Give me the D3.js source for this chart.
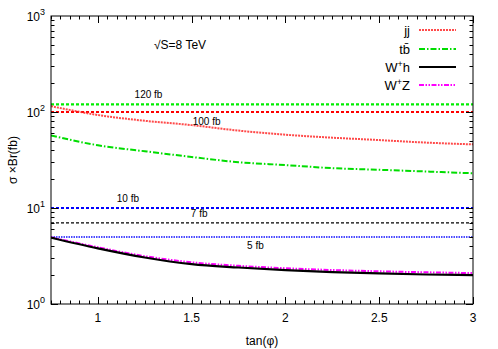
<!DOCTYPE html>
<html lang="en">
<head>
  <meta charset="UTF-8">
  <title>sigma x Br vs tan(phi)</title>
  <script src="https://cdnjs.cloudflare.com/ajax/libs/d3/7.8.5/d3.min.js"></script>
  <style>
    body { margin: 0; background: #fff; }
    svg text { font-family: "Liberation Sans", Arial, sans-serif; fill: #000; }
  </style>
</head>
<body>
  <div id="chart"></div>
  <script>
    // data
    const tanPhi = [0.75, 1, 1.25, 1.5, 1.75, 2, 2.25, 2.5, 2.75, 3];
    const jj  = [115, 93, 81, 73, 64, 58, 54, 51, 48, 46];
    const ttb = [57, 45, 39, 34, 30, 28, 26, 25, 24, 23];
    const wh  = [4.9, 3.8, 3.05, 2.6, 2.4, 2.25, 2.15, 2.08, 2.03, 2.0];
    const wz  = [4.95, 3.9, 3.15, 2.72, 2.5, 2.36, 2.26, 2.19, 2.14, 2.1];

    const refValues = [120, 100, 10, 7, 5];
    const refLabels = ["120 fb", "100 fb", "10 fb", "7 fb", "5 fb"];
    const refLabelX = [1.27, 1.58, 1.16, 1.54, 1.84];

    const xTicks = [1, 1.5, 2, 2.5, 3];
    const yTicks = [1, 10, 100, 1000];

    const W = 498, H = 349;
    const margin = {top: 16, right: 25, bottom: 45, left: 51};

    const svg = d3.select("#chart").append("svg")
      .attr("width", W).attr("height", H);

    const x = d3.scaleLinear().domain([0.75, 3]).range([margin.left, W - margin.right]);
    const y = d3.scaleLog().domain([1, 1000]).range([H - margin.bottom, margin.top]);

    const defs = svg.append("defs");
    defs.append("clipPath").attr("id", "clip").append("rect")
      .attr("x", margin.left).attr("y", margin.top)
      .attr("width", x.range()[1] - margin.left).attr("height", y.range()[0] - margin.top);

    const plot = svg.append("g").attr("clip-path", "url(#clip)");

    // horizontal reference lines
    const refStyle = [
      {color: "#00ee00", width: 2.2, dash: "3,2"},
      {color: "#ff0000", width: 2.2, dash: "3,2"},
      {color: "#0000ff", width: 2.2, dash: "3,2"},
      {color: "#000000", width: 1.2, dash: "3,2"},
      {color: "#4a4aff", width: 2, dash: "1.5,1"}
    ];
    refValues.forEach((v, i) => {
      plot.append("line")
        .attr("x1", x.range()[0]).attr("x2", x.range()[1])
        .attr("y1", y(v)).attr("y2", y(v))
        .attr("stroke", refStyle[i].color)
        .attr("stroke-width", refStyle[i].width)
        .attr("stroke-dasharray", refStyle[i].dash);
    });

    const refOffset = [-6, 13, -6, -6, 12];
    refValues.forEach((v, i) => {
      svg.append("text")
        .attr("x", x(refLabelX[i])).attr("y", y(v) + refOffset[i])
        .attr("text-anchor", "middle")
        .attr("font-size", 10)
        .text(refLabels[i]);
    });

    // curves
    const line = d3.line()
      .x(d => x(d[0])).y(d => y(d[1]))
      .curve(d3.curveMonotoneX);

    const series = [
      {name: "jj", vals: jj, color: "#ff2a2a", width: 2, dash: "2,1", op: 0.85},
      {name: "tb", vals: ttb, color: "#00dd00", width: 2, dash: "6,2,1.5,2", op: 1},
      {name: "wz", vals: wz, color: "#ff00ff", width: 2, dash: "5,1.5,1.5,1.5,1.5,1.5", op: 1},
      {name: "wh", vals: wh, color: "#000000", width: 2.2, dash: null, op: 1}
    ];
    series.forEach(s => {
      plot.append("path")
        .datum(tanPhi.map((t, i) => [t, s.vals[i]]))
        .attr("d", line)
        .attr("fill", "none")
        .attr("stroke", s.color)
        .attr("stroke-width", s.width)
        .attr("stroke-opacity", s.op)
        .attr("stroke-dasharray", s.dash);
    });

    // frame
    const x0 = x.range()[0], x1 = x.range()[1], y0 = y.range()[0], y1 = y.range()[1];
    svg.append("rect")
      .attr("x", x0).attr("y", y1).attr("width", x1 - x0).attr("height", y0 - y1)
      .attr("fill", "none").attr("stroke", "#000").attr("stroke-width", 1);

    const ticks = svg.append("g").attr("stroke", "#000").attr("stroke-width", 1);

    // x ticks, minor every 0.05
    d3.range(0.75, 3.0001, 0.05).forEach(t => {
      const major = xTicks.some(v => Math.abs(v - t) < 1e-6);
      const len = major ? 7 : 3.5;
      const px = Math.round(x(t)) + 0.5;
      ticks.append("line").attr("x1", px).attr("x2", px).attr("y1", y0).attr("y2", y0 - len);
      ticks.append("line").attr("x1", px).attr("x2", px).attr("y1", y1).attr("y2", y1 + len);
    });

    // y ticks, log minors
    [1, 10, 100].forEach(dec => {
      d3.range(1, 10).forEach(m => {
        const v = dec * m;
        const len = m === 1 ? 7 : 3.5;
        const py = Math.round(y(v)) + 0.5;
        ticks.append("line").attr("x1", x0).attr("x2", x0 + len).attr("y1", py).attr("y2", py);
        ticks.append("line").attr("x1", x1).attr("x2", x1 - len).attr("y1", py).attr("y2", py);
      });
    });

    // tick labels
    xTicks.forEach(t => {
      svg.append("text")
        .attr("x", x(t)).attr("y", y0 + 18)
        .attr("text-anchor", "middle").attr("font-size", 12)
        .text(t);
    });
    yTicks.forEach(v => {
      const tx = svg.append("text")
        .attr("x", x0 - 6).attr("y", y(v) + 5)
        .attr("text-anchor", "end").attr("font-size", 12);
      tx.append("tspan").text("10");
      tx.append("tspan").attr("dy", -6).attr("font-size", 9).text(Math.round(Math.log10(v)));
    });

    // axis titles
    svg.append("text")
      .attr("x", (x0 + x1) / 2).attr("y", y0 + 41)
      .attr("text-anchor", "middle").attr("font-size", 12)
      .text("tan(\u03c6)");
    svg.append("text")
      .attr("transform", `translate(17,${(y0 + y1) / 2}) rotate(-90)`)
      .attr("text-anchor", "middle").attr("font-size", 12)
      .text("\u03c3 \u00d7Br(fb)");

    svg.append("text")
      .attr("x", 154).attr("y", 49)
      .attr("font-size", 12)
      .text("\u221aS=8 TeV");

    // legend
    const legend = [
      {label: "jj", s: series[0]},
      {label: "tb", s: series[1], bar: true},
      {label: "W", sup: "+", tail: "h", s: series[3]},
      {label: "W", sup: "+", tail: "Z", s: series[2]}
    ];
    const legY = [30, 49, 67, 85];
    legend.forEach((d, i) => {
      const t = svg.append("text")
        .attr("x", 410).attr("y", legY[i] + 5)
        .attr("text-anchor", "end").attr("font-size", 13);
      if (d.bar) {
        t.append("tspan").text("t");
        t.append("tspan").text("b\u0304");
      } else {
        t.append("tspan").text(d.label);
        if (d.sup) {
          t.append("tspan").attr("dy", -5).attr("font-size", 9).text(d.sup);
          t.append("tspan").attr("dy", 5).text(d.tail);
        }
      }
      svg.append("line")
        .attr("x1", 419).attr("x2", 456)
        .attr("y1", legY[i]).attr("y2", legY[i])
        .attr("stroke", d.s.color)
        .attr("stroke-width", d.s.width)
        .attr("stroke-opacity", d.s.op)
        .attr("stroke-dasharray", d.s.dash);
    });
  </script>
</body>
</html>
